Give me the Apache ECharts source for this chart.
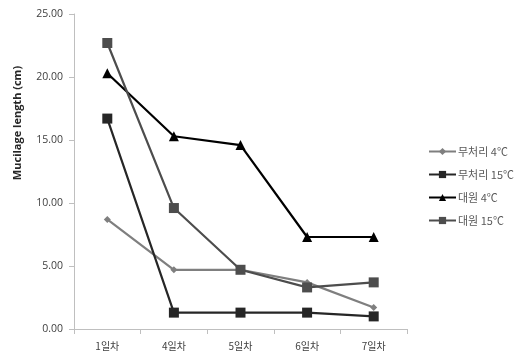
<!DOCTYPE html>
<html>
<head>
<meta charset="utf-8">
<script src="https://cdn.jsdelivr.net/npm/echarts@6/dist/echarts.min.js"></script>
<style>
  html, body { margin: 0; padding: 0; background: #fff; }
  #chart { width: 517px; height: 359px; }
</style>
</head>
<body>
<div id="chart"></div>
<script>
// Days after treatment
const days = ['1일차', '4일차', '5일차', '6일차', '7일차'];

// Mucilage length (cm) per treatment
const plain4 = [8.7, 4.7, 4.7, 3.7, 1.7];
const plain15 = [16.7, 1.3, 1.3, 1.3, 1.0];
const daewon4 = [20.3, 15.3, 14.6, 7.3, 7.3];
const daewon15 = [22.7, 9.6, 4.7, 3.3, 3.7];

const seriesNames = ['무처리 4℃', '무처리 15℃', '대원 4℃', '대원 15℃'];

const yTicks = { min: 0, max: 25, interval: 5 };
const yTitle = 'Mucilage length (cm)';

const font = '"Open Sans", "Noto Sans CJK KR", sans-serif';
const cjkFont = '"Noto Sans CJK KR", "Noto Sans", sans-serif';

function line(name, data, color, symbol, size, z) {
  return {
    name: name,
    type: 'line',
    data: data,
    symbol: symbol,
    symbolSize: size,
    z: z,
    lineStyle: { color: color, width: 2.2 },
    itemStyle: { color: color },
    emphasis: { disabled: true }
  };
}

const chart = echarts.init(document.getElementById('chart'));
chart.setOption({
  animation: false,
  grid: { left: 74, right: 110, top: 14, bottom: 30 },
  legend: {
    orient: 'vertical',
    left: 423,
    top: 141,
    itemWidth: 27,
    itemHeight: 9,
    itemGap: 12,
    textStyle: { fontFamily: cjkFont, fontSize: 11, color: '#595959', padding: [0, 0, 0, -3] },
    data: seriesNames
  },
  graphic: [{
    type: 'text',
    x: 18,
    y: 123,
    rotation: Math.PI / 2,
    style: {
      text: yTitle,
      fontFamily: font,
      fontSize: 11,
      fontWeight: 'bold',
      fill: '#262626',
      align: 'center',
      verticalAlign: 'middle'
    }
  }],
  xAxis: {
    type: 'category',
    data: days,
    boundaryGap: true,
    axisLine: { lineStyle: { color: '#bfbfbf', width: 1 } },
    axisTick: { show: true, length: 5, lineStyle: { color: '#bfbfbf' } },
    axisLabel: { fontFamily: cjkFont, fontSize: 10, color: '#404040', margin: 12 }
  },
  yAxis: {
    type: 'value',
    min: yTicks.min,
    max: yTicks.max,
    interval: yTicks.interval,
    axisLine: { show: true, lineStyle: { color: '#bfbfbf', width: 1 } },
    axisTick: { show: true, length: 5, lineStyle: { color: '#bfbfbf' } },
    splitLine: { show: false },
    axisLabel: {
      fontFamily: font, fontSize: 10.5, color: '#404040', margin: 11,
      formatter: v => v.toFixed(2)
    }
  },
  series: [
    line(seriesNames[0], plain4, '#7f7f7f', 'diamond', 7, 2),
    line(seriesNames[1], plain15, '#262626', 'rect', 10, 3),
    line(seriesNames[2], daewon4, '#000000', 'triangle', 10, 4),
    line(seriesNames[3], daewon15, '#4d4d4d', 'rect', 10, 5)
  ]
});
</script>
</body>
</html>
